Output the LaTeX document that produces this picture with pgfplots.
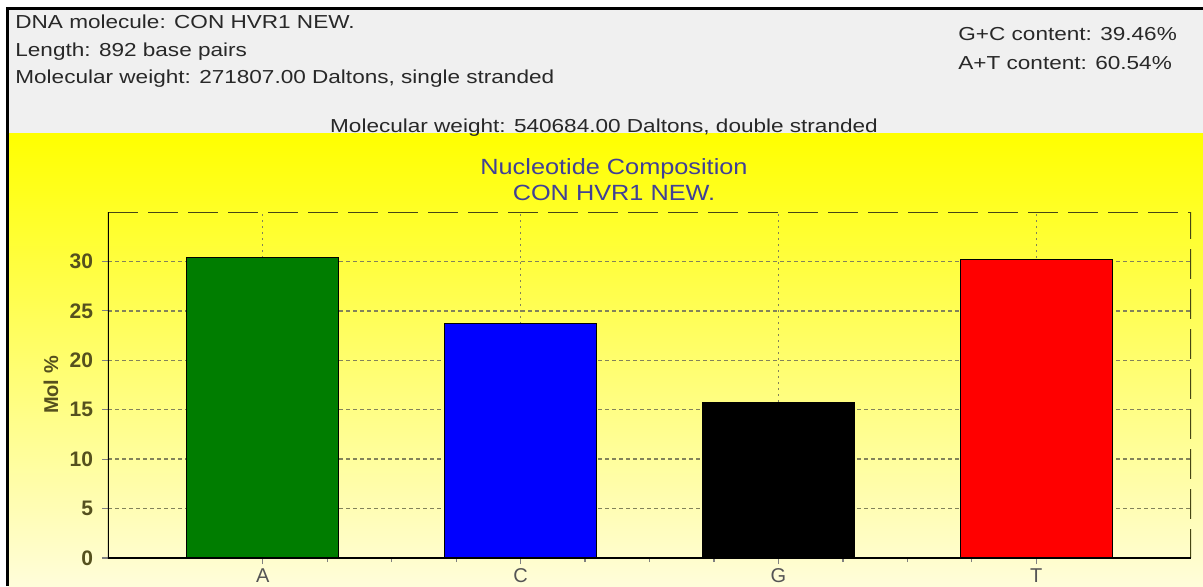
\documentclass[border=0pt]{standalone}
\usepackage{fontspec}
\setmainfont{Liberation Sans}
\newfontfamily\hdrfont[FakeStretch=1.2]{Liberation Sans}
\newfontfamily\ttlfont[FakeStretch=1.15]{Liberation Sans}
\usepackage{pgfplots}
\pgfplotsset{compat=1.18}

\definecolor{panelgray}{RGB}{240,240,240}
\definecolor{bgyellow}{RGB}{255,255,0}
\definecolor{bgpale}{RGB}{255,253,218}
\definecolor{hdrtext}{RGB}{40,40,40}
\definecolor{ttltext}{RGB}{64,64,150}
\definecolor{ticktext}{RGB}{85,80,30}
\definecolor{xlabcol}{RGB}{85,85,85}
\definecolor{framecol}{RGB}{70,70,20}
\definecolor{gridcol}{RGB}{130,130,90}
\definecolor{barA}{RGB}{0,125,0}
\definecolor{barC}{RGB}{0,0,255}
\definecolor{barG}{RGB}{0,0,0}
\definecolor{barT}{RGB}{255,0,0}

\newcommand\hdr{\hdrfont\fontsize{9.4}{11}\selectfont}
\newcommand\ttl{\ttlfont\fontsize{11}{13}\selectfont}

\begin{document}
\begin{tikzpicture}
\useasboundingbox (0,0) rectangle (601.5pt,293pt);
\clip (0,0) rectangle (601.5pt,293pt);

% window background, in pixel coordinates (y down)
\begin{scope}[x=0.5pt,y=-0.5pt,yshift=293pt]
  \fill[white] (0,0) rectangle (1203,586);
  \fill[panelgray] (8,9) rectangle (1203,133);
  \shade[top color=bgyellow, bottom color=bgpale] (8,133) rectangle (1203,586);
  \draw[black, line width=1.5pt] (7.5,586) -- (7.5,8.5) -- (1203,8.5);

  \begin{scope}[every node/.style={inner sep=0pt, text=hdrtext, font=\hdr}]
    \node[anchor=base west] at (15,28) {DNA molecule: CON HVR1 NEW.};
    \node[anchor=base west] at (15,56) {Length: 892 base pairs};
    \node[anchor=base west] at (15,83) {Molecular weight: 271807.00 Daltons, single stranded};
    \node[anchor=base] at (604,132) {Molecular weight: 540684.00 Daltons, double stranded};
    \node[anchor=base west] at (958,40) {G+C content: 39.46\%};
    \node[anchor=base west] at (958,69) {A+T content: 60.54\%};
  \end{scope}

  \node[anchor=base, inner sep=0pt, text=ttltext, font=\ttl] at (614,174) {Nucleotide Composition};
  \node[anchor=base, inner sep=0pt, text=ttltext, font=\ttl] at (614,200) {CON HVR1 NEW.};
\end{scope}

\begin{axis}[
    at={(54pt,14pt)}, anchor=south west,
    scale only axis, width=541.5pt, height=173pt,
    xmin=-0.6, xmax=3.6, ymin=0, ymax=35,
    axis line style={draw=none},
    tick pos=left, tick align=outside,
    xtick={0,1,2,3}, xticklabels={A,C,G,T},
    minor x tick num=3,
    ytick={0,5,...,30},
    major tick length=3pt, minor tick length=2pt,
    tick style={draw=gray, line width=0.6pt},
    xmajorgrids, ymajorgrids,
    x grid style={gridcol, line width=0.7pt, dash pattern=on 1pt off 2pt},
    y grid style={gridcol, line width=0.7pt, dash pattern=on 2pt off 1.5pt},
    /pgf/number format/assume math mode=true,
    yticklabel style={font=\bfseries\fontsize{10.5}{12}\selectfont, text=ticktext, xshift=-1pt},
    xticklabel style={font=\fontsize{10}{12}\selectfont, text=xlabcol, yshift=1.2pt},
    every axis y label/.style={at={(axis description cs:-0.0526,0.5)}, rotate=90, anchor=center},
    ylabel={Mol \%},
    ylabel style={font=\bfseries\fontsize{10}{12}\selectfont, text=ticktext},
    every axis plot/.append style={ybar, bar width=0.59, bar shift=0pt, draw=black, line width=0.5pt},
  ]
  \addplot[fill=barA] coordinates {(0,30.38)};
  \addplot[fill=barC] coordinates {(1,23.77)};
  \addplot[fill=barG] coordinates {(2,15.69)};
  \addplot[fill=barT] coordinates {(3,30.16)};

  \draw[framecol, line width=1.3pt, dash pattern=on 15pt off 5pt]
    (rel axis cs:0,1) -- (rel axis cs:1,1) -- (rel axis cs:1,0);
  \draw[black, line width=1.4pt]
    (rel axis cs:0,1) -- (rel axis cs:0,0) -- (rel axis cs:1,0);
\end{axis}
\end{tikzpicture}
\end{document}
